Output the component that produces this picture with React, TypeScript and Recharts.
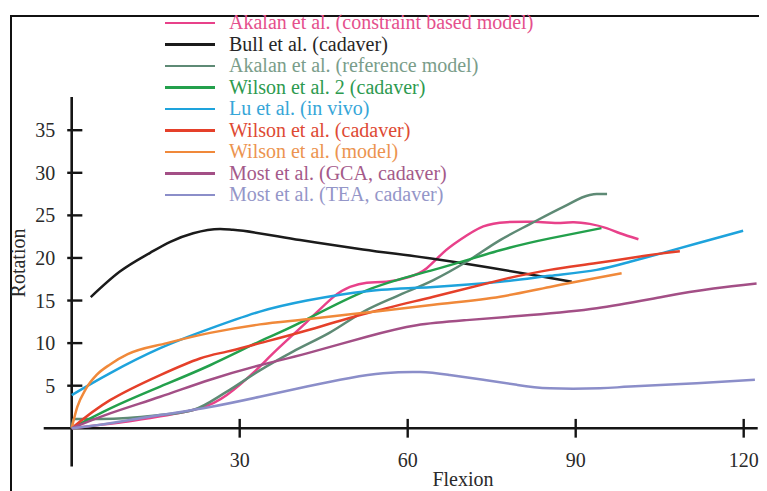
import React from 'react';
import { LineChart, Line, XAxis, YAxis, ReferenceLine, Legend } from 'recharts';

const xTicks = [30, 60, 90, 120];
const yTicks = [5, 10, 15, 20, 25, 30, 35];

const akalanConstraint: number[][] = [[0,0],[5,0.4],[10,0.8],[15.8,1.4],[22.9,2.35],[27.7,3.9],[32.4,6.5],[36.6,9.2],[42,12.5],[46.7,15.4],[49.7,16.6],[52.7,17.1],[56.2,17.2],[60.4,17.8],[63.4,18.8],[66.3,20.6],[69.3,22.1],[73.5,23.7],[77.7,24.2],[82.4,24.25],[87.2,24.1],[89.5,24.2],[92.5,24.0],[95.5,23.5],[97.9,22.9],[101.2,22.2]];
const bull: number[][] = [[3.4,15.4],[8.6,18.4],[14,20.6],[17.6,21.9],[21.7,22.9],[26.5,23.4],[28.8,23.3],[40.8,22.1],[52,21],[64.5,19.9],[82.4,18.0],[89.3,17.2]];
const akalanReference: number[][] = [[0,0],[0.3,1.1],[5,1.1],[10,1.2],[15,1.5],[21.7,2.15],[27.7,4.3],[33.6,6.8],[39.5,9.0],[46,11.2],[52.7,13.9],[58,15.5],[64.6,17.4],[70.5,19.55],[76.5,22.1],[81.9,24.0],[87.8,26.0],[92.5,27.4],[93.75,27.5],[95.6,27.5]];
const wilson2: number[][] = [[0,0],[6.9,2.35],[15.8,4.9],[24.7,7.4],[33.6,10.2],[40.8,12.4],[52.7,16.2],[64.6,18.6],[76.5,20.9],[85.4,22.3],[94.6,23.5]];
const luInVivo: number[][] = [[0,3.9],[6.8,6.45],[15.8,9.4],[24.7,11.7],[33.6,13.7],[42,15.0],[52.7,16.1],[64.6,16.6],[76.5,17.2],[85.4,17.9],[93.75,18.6],[99.7,19.55],[105.6,20.6],[111.6,21.7],[119.9,23.2]];
const wilsonCadaver: number[][] = [[0,0],[6.85,3.3],[15.8,6.25],[22.9,8.2],[27.7,9.0],[33.6,10.0],[41,11.3],[52.7,13.5],[64.6,15.45],[76.5,17.4],[85.4,18.6],[93.75,19.4],[102.7,20.3],[108.6,20.8]];
const wilsonModel: number[][] = [[0,0],[1,2.5],[2.5,4.6],[4.5,6.3],[6.85,7.5],[10,8.7],[17,10.0],[24.7,11.2],[33.6,12.2],[42,12.8],[52.7,13.6],[64.6,14.5],[76.5,15.45],[85.4,16.6],[90.8,17.3],[98.2,18.2]];
const mostGCA: number[][] = [[0,0],[6.85,1.75],[15.8,3.7],[24.7,5.7],[33.6,7.4],[42,8.8],[52.7,10.75],[61.6,12.1],[70.5,12.7],[81.9,13.3],[93.75,14.1],[105.6,15.45],[114.6,16.4],[122.3,17.0]];
const mostTEA: number[][] = [[0,0],[6.85,0.6],[15.8,1.55],[24.7,2.5],[33.6,3.7],[42,4.9],[49.7,5.9],[55.6,6.45],[62.2,6.6],[67.5,6.25],[73.5,5.7],[79.5,5.1],[85.4,4.7],[94.3,4.7],[99.7,4.9],[111.6,5.3],[122,5.7]];

const seriesNames = [
  'Akalan et al. (constraint based model)',
  'Bull et al. (cadaver)',
  'Akalan et al. (reference model)',
  'Wilson et al. 2 (cadaver)',
  'Lu et al. (in vivo)',
  'Wilson et al. (cadaver)',
  'Wilson et al. (model)',
  'Most et al. (GCA, cadaver)',
  'Most et al. (TEA, cadaver)',
];
const seriesData = [akalanConstraint, bull, akalanReference, wilson2, luInVivo, wilsonCadaver, wilsonModel, mostGCA, mostTEA];
const curveTypes = ['natural', 'monotone', 'monotone', 'natural', 'natural', 'natural', 'monotone', 'natural', 'natural'];
const lineColors = ['#e8418a', '#1b1b1b', '#5e8a75', '#23a04c', '#1ea3dc', '#e5402a', '#f0893a', '#a34f86', '#8b8ec9'];
const textColors = ['#e5508d', '#262626', '#7a9d8a', '#2d9a4f', '#36a6d8', '#de4a34', '#ec9450', '#a45a8a', '#9496c8'];

const series = seriesNames.map((name, i) => ({
  name,
  color: lineColors[i],
  textColor: textColors[i],
  type: curveTypes[i],
  data: seriesData[i].map(([x, y]) => ({ x, y })),
}));

const FONT = '"Liberation Serif", "Times New Roman", Times, serif';
const FS = 20;

const renderXTick = (props: any) => {
  const { x, y, payload } = props;
  return (
    <text x={x} y={y} textAnchor="middle" fontFamily={FONT} fontSize={FS} fill="#2a2a2a">
      {payload.value}
    </text>
  );
};

const renderYTick = (props: any) => {
  const { x, y, payload } = props;
  return (
    <text x={x + 11.5} y={y} dy="0.35em" textAnchor="end" fontFamily={FONT} fontSize={FS} fill="#2a2a2a">
      {payload.value}
    </text>
  );
};

const LegendBox = () => (
  <div style={{ fontFamily: FONT, fontSize: FS }}>
    {series.map((s) => (
      <div key={s.name} style={{ display: 'flex', alignItems: 'center', height: 21.5, whiteSpace: 'nowrap' }}>
        <span style={{ display: 'inline-block', width: 50, height: 2.5, background: s.color, marginRight: 14 }} />
        <span style={{ color: s.textColor, lineHeight: '21.5px' }}>{s.name}</span>
      </div>
    ))}
  </div>
);

const axisColor = '#151515';

export default function App() {
  return (
    <div style={{ position: 'relative', width: 759, height: 483, overflow: 'hidden', background: '#fff', fontFamily: FONT }}>
      <div
        style={{
          position: 'absolute', left: 2, top: 7, width: 757, height: 476,
          borderTop: '2px solid #111', borderLeft: '2px solid #111', boxSizing: 'border-box',
        }}
      />
      <div style={{ position: 'absolute', left: 0, top: 0 }}>
        <LineChart width={759} height={483} margin={{ top: 89, right: 9.3, bottom: 4.4, left: 15.7 }}>
          <XAxis
            type="number"
            dataKey="x"
            domain={[-5, 122.5]}
            ticks={xTicks}
            allowDataOverflow
            axisLine={false}
            tickLine={false}
            tickSize={0}
            tickMargin={0}
            height={20}
            tick={renderXTick}
            interval={0}
          />
          <YAxis
            type="number"
            dataKey="y"
            domain={[-4.5, 38.9]}
            ticks={yTicks}
            allowDataOverflow
            axisLine={false}
            tickLine={false}
            tickSize={0}
            tickMargin={0}
            width={20}
            tick={renderYTick}
            interval={0}
          />
          <ReferenceLine x={0} stroke={axisColor} strokeWidth={2.6} />
          <ReferenceLine y={0} stroke={axisColor} strokeWidth={2.6} />
          {xTicks.map((t) => (
            <ReferenceLine key={'xt' + t} segment={[{ x: t, y: -1.1 }, { x: t, y: 1.1 }]} stroke={axisColor} strokeWidth={2.4} />
          ))}
          {yTicks.map((t) => (
            <ReferenceLine key={'yt' + t} segment={[{ x: -0.8, y: t }, { x: 1.9, y: t }]} stroke={axisColor} strokeWidth={2.4} />
          ))}
          {series.map((s) => (
            <Line
              key={s.name}
              data={s.data}
              dataKey="y"
              name={s.name}
              type={s.type as any}
              stroke={s.color}
              strokeWidth={2.5}
              dot={false}
              activeDot={false}
              isAnimationActive={false}
            />
          ))}
          <Legend
            layout="vertical"
            align="center"
            verticalAlign="middle"
            wrapperStyle={{ top: 4.25, left: 157, width: 480 }}
            content={() => <LegendBox />}
          />
        </LineChart>
      </div>
      <div style={{ position: 'absolute', left: 455, top: 471, width: 0, height: 0 }}>
        <span
          style={{
            position: 'absolute', transform: 'translate(-50%, -50%)', whiteSpace: 'nowrap',
            fontFamily: FONT, fontSize: FS, lineHeight: '22px', color: '#2a2a2a',
          }}
        >
          Flexion
        </span>
      </div>
      <div style={{ position: 'absolute', left: 10, top: 254.5, width: 0, height: 0 }}>
        <span
          style={{
            position: 'absolute', transform: 'translate(-50%, -50%) rotate(-90deg)', whiteSpace: 'nowrap',
            fontFamily: FONT, fontSize: FS, color: '#2a2a2a',
          }}
        >
          Rotation
        </span>
      </div>
    </div>
  );
}
